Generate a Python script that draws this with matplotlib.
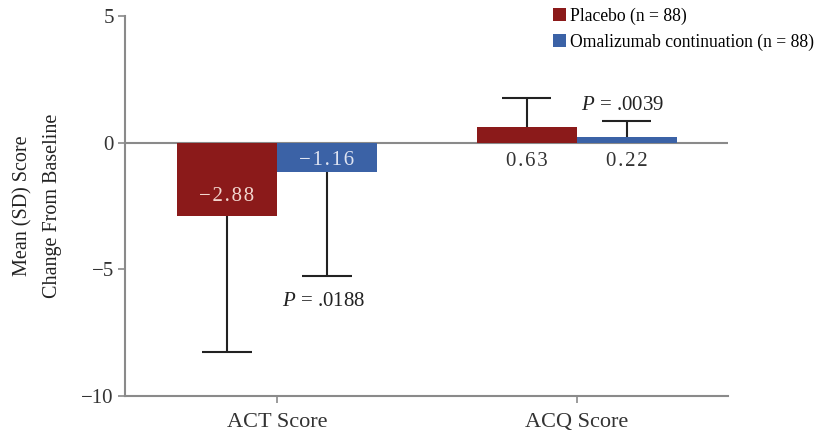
import matplotlib
matplotlib.use("Agg")
import numpy as np
from matplotlib import pyplot as plt
from matplotlib.patches import Patch

plt.rcParams['font.family'] = ['Liberation Serif', 'DejaVu Serif']
plt.rcParams['mathtext.fontset'] = 'custom'
plt.rcParams['mathtext.rm'] = 'Liberation Serif'
plt.rcParams['mathtext.it'] = 'Liberation Serif:italic'

# data
categories = ['ACT Score', 'ACQ Score']
groups = ['Placebo (n = 88)', 'Omalizumab continuation (n = 88)']
placebo_mean = [-2.88, 0.63]
placebo_sd = [5.37, 1.14]
omal_mean = [-1.16, 0.22]
omal_sd = [4.12, 0.65]
p_values = ['.0188', '.0039']

red = '#8b1a1a'
blue = '#3b62a6'
axis_gray = '#8a8a8a'
ink = '#222222'

fig = plt.figure(figsize=(8.27, 4.33), dpi=100)
ax = fig.add_axes([0.151, 0.0855, 0.729, 0.8775])

x = np.arange(len(categories))
bar_w = 1 / 3
pl_x = x - bar_w / 2
om_x = x + bar_w / 2

ax.bar(pl_x, placebo_mean, width=bar_w, color=red, zorder=2)
ax.bar(om_x, omal_mean, width=bar_w, color=blue, zorder=2)

# one-sided SD whiskers, pointing away from zero
cap = 0.082
for xs, means, sds in [(pl_x, placebo_mean, placebo_sd), (om_x, omal_mean, omal_sd)]:
    for xi, m, s in zip(xs, means, sds):
        end = m - s if m < 0 else m + s
        ax.vlines(xi, m, end, color=ink, lw=1.5, zorder=3)
        ax.hlines(end, xi - cap, xi + cap, color=ink, lw=1.5, zorder=3)

def fmt(v):
    return '\u200a'.join(f'{v:.2f}'.replace('-', '\u2212'))

# value labels: inside negative bars, under positive ones
for xs, means, light, lift in [(pl_x, placebo_mean, '#f2d6cf', 0.77), (om_x, omal_mean, '#dfe4f2', 0.47)]:
    for xi, m in zip(xs, means):
        if m < 0:
            ax.text(xi, m + lift, fmt(m), ha='center', va='center', fontsize=15, color=light, zorder=4)
        else:
            ax.text(xi, -0.74, fmt(m), ha='center', va='center', fontsize=15, color='#333333', zorder=4)

ax.text(om_x[0] - 0.01, -6.27, r'$P$ = ' + p_values[0], ha='center', va='center', fontsize=15, color=ink)
ax.text(om_x[1] - 0.013, 1.46, r'$P$ = ' + p_values[1], ha='center', va='center', fontsize=15, color=ink)

ax.axhline(0, color=axis_gray, lw=1.5, zorder=1)

ax.set_xlim(-0.507, 1.503)
ax.set_ylim(-10, 5)
ax.set_yticks([-10, -5, 0, 5])
ax.set_yticklabels(['\u221210', '\u22125', '0', '5'])
ax.set_xticks(x)
ax.set_xticklabels(categories)
ax.tick_params(axis='both', labelsize=15, labelcolor='#333333', length=5, width=1.2, color=axis_gray)
ax.tick_params(axis='x', labelsize=16, pad=7)
ax.tick_params(axis='y', pad=3)

for side in ['top', 'right']:
    ax.spines[side].set_visible(False)
for side in ['left', 'bottom']:
    ax.spines[side].set_color(axis_gray)
    ax.spines[side].set_linewidth(1.5)

ax.set_ylabel('Mean (SD) Score\nChange From Baseline', fontsize=14.5, linespacing=1.75, color=ink, labelpad=14)

handles = [Patch(facecolor=red), Patch(facecolor=blue)]
fig.legend(handles, groups, loc='upper left', bbox_to_anchor=(0.649, 1.02), frameon=False,
           fontsize=12.7, handlelength=0.75, handleheight=0.75, handletextpad=0.25, labelspacing=0.5)

fig.savefig('out.png', dpi=100)
